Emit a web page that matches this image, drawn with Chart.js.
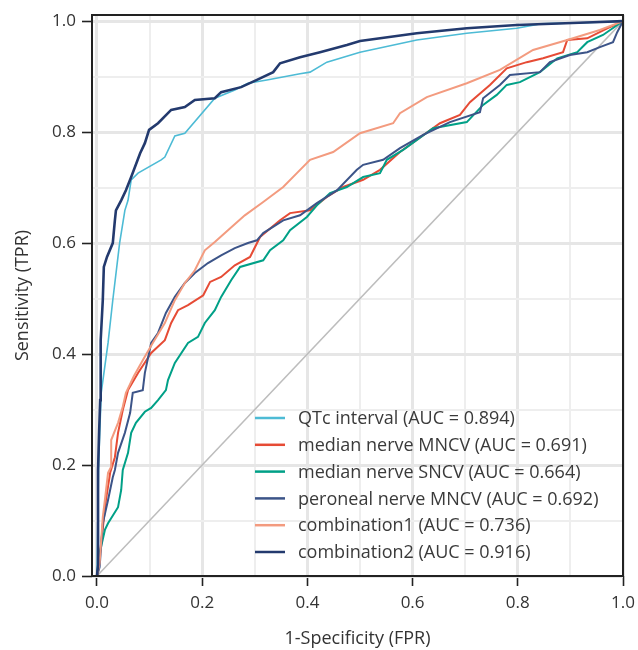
<!DOCTYPE html>
<html>
<head>
<meta charset="utf-8">
<script src="https://cdn.jsdelivr.net/npm/chart.js@4.4.0/dist/chart.umd.min.js"></script>
<style>
  body { margin: 0; background: #fff; }
  #wrap { width: 638px; height: 650px; }
</style>
</head>
<body>
<div id="wrap"><canvas id="rocChart" width="638" height="650"></canvas></div>
<script>
// Tick values (grid every 0.1, labels every 0.2)
const xTicks = [0, 0.1, 0.2, 0.3, 0.4, 0.5, 0.6, 0.7, 0.8, 0.9, 1.0];
const yTicks = [0, 0.1, 0.2, 0.3, 0.4, 0.5, 0.6, 0.7, 0.8, 0.9, 1.0];

// Legend labels
const seriesLabels = [
  "QTc interval (AUC = 0.894)",
  "median nerve MNCV (AUC = 0.691)",
  "median nerve SNCV (AUC = 0.664)",
  "peroneal nerve MNCV (AUC = 0.692)",
  "combination1 (AUC = 0.736)",
  "combination2 (AUC = 0.916)",
];
const seriesColors = ["#4DBBD5", "#E64B35", "#00A087", "#3C5488", "#F39B7F", "#233A6E"];

// ROC curves (FPR / TPR)
const qtcFpr = [0, 0.003, 0.008, 0.021, 0.030, 0.043, 0.053, 0.059, 0.065, 0.078, 0.122, 0.129, 0.148, 0.167, 0.224, 0.262, 0.287, 0.323, 0.386, 0.405, 0.437, 0.500, 0.608, 0.703, 0.798, 0.842, 0.956, 1];
const qtcTpr = [0, 0.200, 0.330, 0.420, 0.497, 0.600, 0.659, 0.677, 0.714, 0.726, 0.750, 0.755, 0.793, 0.798, 0.861, 0.876, 0.888, 0.894, 0.905, 0.908, 0.926, 0.944, 0.966, 0.978, 0.987, 0.995, 0.998, 1];

const medMncvFpr = [0, 0.005, 0.017, 0.025, 0.034, 0.040, 0.049, 0.059, 0.078, 0.103, 0.129, 0.141, 0.154, 0.173, 0.202, 0.215, 0.236, 0.262, 0.291, 0.310, 0.348, 0.367, 0.405, 0.437, 0.468, 0.506, 0.538, 0.576, 0.652, 0.690, 0.709, 0.747, 0.779, 0.817, 0.848, 0.886, 0.894, 0.932, 0.970, 1];
const medMncvTpr = [0, 0.034, 0.137, 0.186, 0.214, 0.258, 0.299, 0.335, 0.366, 0.402, 0.425, 0.456, 0.479, 0.488, 0.506, 0.530, 0.539, 0.560, 0.575, 0.611, 0.641, 0.654, 0.659, 0.683, 0.701, 0.714, 0.732, 0.764, 0.816, 0.831, 0.854, 0.885, 0.915, 0.926, 0.933, 0.944, 0.966, 0.969, 0.987, 1];

const medSncvFpr = [0, 0.005, 0.015, 0.021, 0.040, 0.046, 0.049, 0.059, 0.065, 0.074, 0.091, 0.103, 0.116, 0.131, 0.135, 0.148, 0.173, 0.192, 0.205, 0.224, 0.236, 0.255, 0.272, 0.316, 0.329, 0.354, 0.367, 0.399, 0.418, 0.443, 0.475, 0.506, 0.538, 0.551, 0.582, 0.639, 0.703, 0.734, 0.760, 0.779, 0.804, 0.842, 0.875, 0.913, 0.932, 0.962, 1];
const medSncvTpr = [0, 0.041, 0.083, 0.095, 0.124, 0.155, 0.191, 0.222, 0.258, 0.276, 0.296, 0.303, 0.317, 0.335, 0.353, 0.384, 0.420, 0.431, 0.456, 0.479, 0.503, 0.533, 0.557, 0.569, 0.587, 0.605, 0.623, 0.647, 0.668, 0.690, 0.701, 0.719, 0.726, 0.750, 0.768, 0.807, 0.818, 0.849, 0.867, 0.885, 0.890, 0.908, 0.933, 0.944, 0.962, 0.975, 1];

const perMncvFpr = [0, 0.005, 0.011, 0.021, 0.030, 0.034, 0.040, 0.053, 0.063, 0.068, 0.087, 0.091, 0.103, 0.116, 0.131, 0.148, 0.167, 0.186, 0.211, 0.236, 0.262, 0.287, 0.304, 0.316, 0.354, 0.386, 0.418, 0.456, 0.494, 0.506, 0.544, 0.576, 0.620, 0.671, 0.728, 0.734, 0.766, 0.785, 0.842, 0.861, 0.899, 0.932, 0.956, 0.981, 0.989, 1];
const perMncvTpr = [0, 0.016, 0.095, 0.137, 0.178, 0.191, 0.222, 0.258, 0.294, 0.330, 0.335, 0.366, 0.420, 0.438, 0.474, 0.503, 0.528, 0.546, 0.564, 0.578, 0.591, 0.600, 0.605, 0.618, 0.641, 0.650, 0.672, 0.695, 0.732, 0.741, 0.750, 0.771, 0.795, 0.818, 0.836, 0.861, 0.885, 0.903, 0.908, 0.926, 0.939, 0.944, 0.953, 0.962, 0.980, 1];

const comb1Fpr = [0, 0.005, 0.011, 0.015, 0.021, 0.027, 0.027, 0.040, 0.049, 0.055, 0.070, 0.087, 0.106, 0.129, 0.148, 0.167, 0.186, 0.205, 0.224, 0.249, 0.281, 0.316, 0.354, 0.380, 0.405, 0.449, 0.500, 0.563, 0.576, 0.627, 0.703, 0.766, 0.829, 0.894, 0.956, 1];
const comb1Tpr = [0, 0.023, 0.106, 0.137, 0.186, 0.197, 0.245, 0.276, 0.305, 0.330, 0.360, 0.389, 0.420, 0.456, 0.497, 0.528, 0.551, 0.587, 0.602, 0.623, 0.650, 0.674, 0.701, 0.726, 0.750, 0.764, 0.798, 0.816, 0.834, 0.863, 0.888, 0.912, 0.948, 0.966, 0.984, 1];

const comb2Fpr = [0, 0.002, 0.002, 0.004, 0.006, 0.007, 0.011, 0.013, 0.019, 0.030, 0.034, 0.036, 0.046, 0.055, 0.065, 0.082, 0.091, 0.099, 0.116, 0.141, 0.167, 0.186, 0.224, 0.236, 0.274, 0.304, 0.335, 0.348, 0.386, 0.424, 0.475, 0.500, 0.608, 0.703, 0.798, 0.943, 1];
const comb2Tpr = [0, 0.020, 0.190, 0.258, 0.317, 0.425, 0.497, 0.557, 0.575, 0.600, 0.641, 0.659, 0.677, 0.695, 0.719, 0.762, 0.780, 0.804, 0.816, 0.840, 0.845, 0.858, 0.861, 0.872, 0.881, 0.894, 0.908, 0.924, 0.935, 0.944, 0.957, 0.964, 0.978, 0.987, 0.993, 0.998, 1];

// Chance line
const chanceFpr = [0, 1];
const chanceTpr = [0, 1];

const curves = [
  [qtcFpr, qtcTpr, 1.6],
  [medMncvFpr, medMncvTpr, 2],
  [medSncvFpr, medSncvTpr, 2],
  [perMncvFpr, perMncvTpr, 2],
  [comb1Fpr, comb1Tpr, 2],
  [comb2Fpr, comb2Tpr, 2.6],
];

function toPoints(xs, ys) {
  return xs.map((x, i) => ({ x: x, y: ys[i] }));
}

function isMajor(v) {
  return Math.round(v * 10) % 2 === 0;
}

Chart.defaults.font.family = "'Open Sans', sans-serif";
Chart.defaults.color = "#333";

const datasets = curves.map((c, i) => ({
  label: seriesLabels[i],
  data: toPoints(c[0], c[1]),
  borderColor: seriesColors[i],
  borderWidth: c[2],
  pointRadius: 0,
  tension: 0,
  fill: false,
  order: curves.length - i,
}));
datasets.push({
  label: "chance",
  data: toPoints(chanceFpr, chanceTpr),
  borderColor: "#BDBDBD",
  borderWidth: 1.5,
  pointRadius: 0,
  fill: false,
  order: 10,
});

// Frame around plot + legend inside the plot
const framePlugin = {
  id: "framePlugin",
  afterDatasetsDraw(chart) {
    const { ctx, chartArea } = chart;
    ctx.save();
    ctx.strokeStyle = "#222";
    ctx.lineWidth = 2;
    ctx.strokeRect(chartArea.left, chartArea.top, chartArea.right - chartArea.left, chartArea.bottom - chartArea.top);

    // legend
    const lx = chartArea.right - 368;
    const ly = chartArea.bottom - 158;
    ctx.font = "18px 'Open Sans', sans-serif";
    ctx.textBaseline = "middle";
    ctx.textAlign = "left";
    seriesLabels.forEach((label, i) => {
      const y = ly + i * 26.8;
      ctx.strokeStyle = seriesColors[i];
      ctx.lineWidth = 2.5;
      ctx.beginPath();
      ctx.moveTo(lx, y);
      ctx.lineTo(lx + 30, y);
      ctx.stroke();
      ctx.fillStyle = "#3a3a3a";
      ctx.fillText(label, lx + 43, y + 1);
    });
    ctx.restore();
  },
};

const gridOpts = {
  color: (ctx) => (ctx.tick && isMajor(ctx.tick.value) ? "#e6e6e6" : "#eeeeee"),
  lineWidth: (ctx) => (ctx.tick && isMajor(ctx.tick.value) ? 3 : 2),
  tickColor: (ctx) => (ctx.tick && isMajor(ctx.tick.value) ? "#222" : "rgba(0,0,0,0)"),
  tickWidth: 1.6,
  tickLength: 10,
};

new Chart(document.getElementById("rocChart"), {
  type: "line",
  data: { datasets: datasets },
  options: {
    responsive: false,
    animation: false,
    layout: { padding: { top: 15, right: 15, left: 0, bottom: 0 } },
    plugins: {
      legend: { display: false },
      tooltip: { enabled: false },
    },
    scales: {
      x: {
        type: "linear",
        min: -0.0095,
        max: 1.0,
        afterBuildTicks: (scale) => {
          scale.ticks = xTicks.map((v) => ({ value: v }));
        },
        afterFit: (scale) => {
          scale.height = 74;
          scale.paddingLeft = 0;
          scale.paddingRight = 0;
        },
        border: { display: false },
        grid: gridOpts,
        ticks: {
          autoSkip: false,
          maxRotation: 0,
          padding: 7,
          color: "#333",
          font: { size: 17 },
          callback: (v) => (isMajor(v) ? v.toFixed(1) : ""),
        },
        title: {
          display: true,
          text: "1-Specificity (FPR)",
          color: "#333",
          font: { size: 18 },
          padding: { top: -6, bottom: 0 },
        },
      },
      y: {
        type: "linear",
        min: 0,
        max: 1.011,
        afterBuildTicks: (scale) => {
          scale.ticks = yTicks.map((v) => ({ value: v }));
        },
        afterFit: (scale) => {
          scale.width = 92;
          scale.paddingTop = 0;
          scale.paddingBottom = 0;
        },
        border: { display: false },
        grid: gridOpts,
        ticks: {
          autoSkip: false,
          padding: 6,
          color: "#333",
          font: { size: 17 },
          callback: (v) => (isMajor(v) ? v.toFixed(1) : ""),
        },
        title: {
          display: true,
          text: "Sensitivity (TPR)",
          color: "#333",
          font: { size: 18 },
          padding: { top: 12, bottom: 0 },
        },
      },
    },
  },
  plugins: [framePlugin],
});
</script>
</body>
</html>
